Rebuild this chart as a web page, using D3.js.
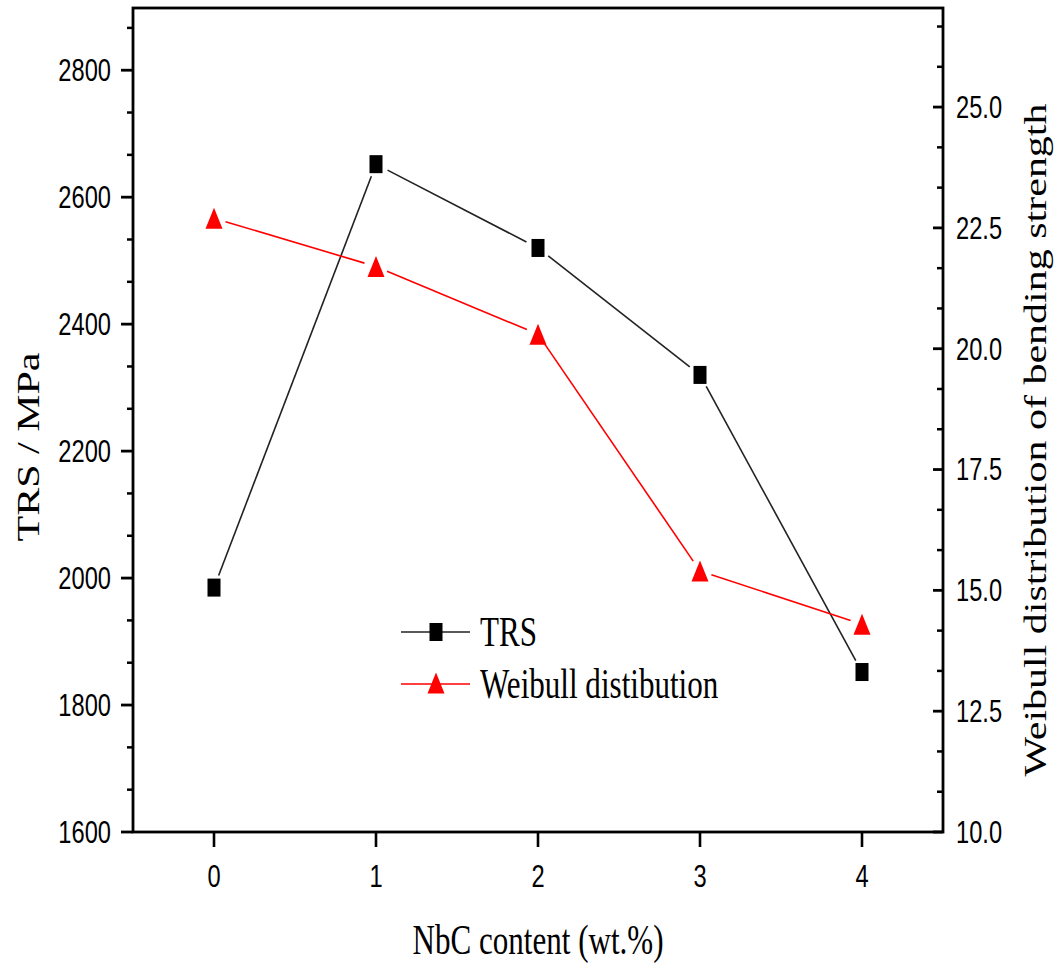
<!DOCTYPE html>
<html>
<head>
<meta charset="utf-8">
<script src="https://cdn.jsdelivr.net/npm/d3@7/dist/d3.min.js"></script>
<style>
  html, body { margin: 0; padding: 0; background: #fff; }
  svg { display: block; }
</style>
</head>
<body>
<svg id="chart" width="1060" height="967"></svg>
<script>
// NbC content (wt.%) on the x axis
const nbcContent = [0, 1, 2, 3, 4];
// Transverse rupture strength, MPa (left axis)
const trsValues = [1985, 2652, 2520, 2320, 1852];
// Weibull modulus of bending strength (right axis)
const weibullValues = [22.7, 21.7, 20.3, 15.4, 14.3];

const leftTicks = [1600, 1800, 2000, 2200, 2400, 2600, 2800];
const rightTicks = [10.0, 12.5, 15.0, 17.5, 20.0, 22.5, 25.0];
const xTicks = [0, 1, 2, 3, 4];

const svg = d3.select("#chart");
const squeeze = 0.74; // glyphs are set narrow

const plot = { left: 133, right: 943, top: 8, bottom: 832 };

const x = d3.scaleLinear().domain([-0.5, 4.5]).range([plot.left, plot.right]);
const yL = d3.scaleLinear().domain([1600, 2898]).range([plot.bottom, plot.top]);
const yR = d3.scaleLinear().domain([10, 27.05]).range([plot.bottom, plot.top]);

const sans = "'Liberation Sans', Arial, sans-serif";
const serif = "'Liberation Serif', 'Times New Roman', serif";

function narrowText(g, tx, ty, str, opts) {
  const t = g.append("text")
    .attr("transform", `translate(${tx},${ty}) scale(${squeeze},1)` + (opts.rotate ? ` rotate(${opts.rotate})` : ""))
    .attr("font-family", opts.family)
    .attr("font-size", opts.size)
    .attr("text-anchor", opts.anchor || "start")
    .attr("dominant-baseline", opts.baseline || "auto")
    .attr("fill", "#000")
    .text(str);
  return t;
}

// ---- Left axis (TRS) ----
const gL = svg.append("g");
const minorL = d3.range(1600, 2898, 200 / 3).filter(v => Math.abs((v - 1600) % 200) > 1 && Math.abs((v - 1600) % 200 - 200) > 1);
gL.selectAll("line.minor").data(minorL).join("line")
  .attr("x1", plot.left - 6).attr("x2", plot.left)
  .attr("y1", d => yL(d)).attr("y2", d => yL(d))
  .attr("stroke", "#000").attr("stroke-width", 2.5);
gL.selectAll("line.major").data(leftTicks).join("line")
  .attr("x1", plot.left - 12).attr("x2", plot.left)
  .attr("y1", d => yL(d)).attr("y2", d => yL(d))
  .attr("stroke", "#000").attr("stroke-width", 2.8);
leftTicks.forEach(v => narrowText(gL, 111, yL(v), String(v),
  { family: sans, size: 32, anchor: "end", baseline: "central" }));

// ---- Right axis (Weibull) ----
const gR = svg.append("g");
const minorR = d3.range(10, 27.05, 2.5 / 3).filter(v => {
  const r = ((v - 10) / 2.5);
  return Math.abs(r - Math.round(r)) > 0.01;
});
gR.selectAll("line.minor").data(minorR).join("line")
  .attr("x1", plot.right - 6).attr("x2", plot.right)
  .attr("y1", d => yR(d)).attr("y2", d => yR(d))
  .attr("stroke", "#000").attr("stroke-width", 2.5);
gR.selectAll("line.major").data(rightTicks).join("line")
  .attr("x1", plot.right - 10).attr("x2", plot.right)
  .attr("y1", d => yR(d)).attr("y2", d => yR(d))
  .attr("stroke", "#000").attr("stroke-width", 2.8);
rightTicks.forEach(v => narrowText(gR, 956, yR(v), v.toFixed(1),
  { family: sans, size: 32, anchor: "start", baseline: "central" }));

// ---- Bottom axis ----
const gX = svg.append("g");
gX.selectAll("line.major").data(xTicks).join("line")
  .attr("x1", d => x(d)).attr("x2", d => x(d))
  .attr("y1", plot.bottom).attr("y2", plot.bottom + 15)
  .attr("stroke", "#000").attr("stroke-width", 2.6);
xTicks.forEach(v => narrowText(gX, x(v), 876, String(v),
  { family: sans, size: 32, anchor: "middle", baseline: "central" }));

// ---- Frame ----
svg.append("rect")
  .attr("x", plot.left).attr("y", plot.top)
  .attr("width", plot.right - plot.left).attr("height", plot.bottom - plot.top)
  .attr("fill", "none").attr("stroke", "#000").attr("stroke-width", 2.8);

// ---- Axis titles ----
narrowText(svg, 538, 940, "NbC content (wt.%)",
  { family: serif, size: 42, anchor: "middle", baseline: "central" });
narrowText(svg, 28, 447, "TRS / MPa",
  { family: serif, size: 42, anchor: "middle", baseline: "central", rotate: -90 });
narrowText(svg, 1035, 440, "Weibull distribution of bending strength",
  { family: serif, size: 42, anchor: "middle", baseline: "central", rotate: -90 });

// ---- Series lines, broken around each marker ----
function gappedSegments(pts, gap) {
  const segs = [];
  for (let i = 0; i < pts.length - 1; i++) {
    const [x1, y1] = pts[i], [x2, y2] = pts[i + 1];
    const len = Math.hypot(x2 - x1, y2 - y1);
    const ux = (x2 - x1) / len, uy = (y2 - y1) / len;
    segs.push([x1 + ux * gap, y1 + uy * gap, x2 - ux * gap, y2 - uy * gap]);
  }
  return segs;
}

const trsPts = nbcContent.map((c, i) => [x(c), yL(trsValues[i])]);
const weiPts = nbcContent.map((c, i) => [x(c), yR(weibullValues[i])]);

svg.append("g").selectAll("line").data(gappedSegments(trsPts, 13)).join("line")
  .attr("x1", d => d[0]).attr("y1", d => d[1]).attr("x2", d => d[2]).attr("y2", d => d[3])
  .attr("stroke", "#222").attr("stroke-width", 1.6);
svg.append("g").selectAll("line").data(gappedSegments(weiPts, 12)).join("line")
  .attr("x1", d => d[0]).attr("y1", d => d[1]).attr("x2", d => d[2]).attr("y2", d => d[3])
  .attr("stroke", "#ff0000").attr("stroke-width", 1.6);

// ---- Markers ----
const sqW = 13, sqH = 18;
const triW = 17, triH = 21;
const trianglePath = (cx, cy) =>
  `M${cx},${cy - triH / 2}L${cx + triW / 2},${cy + triH / 2}L${cx - triW / 2},${cy + triH / 2}Z`;

svg.append("g").selectAll("rect").data(trsPts).join("rect")
  .attr("x", d => d[0] - sqW / 2).attr("y", d => d[1] - sqH / 2)
  .attr("width", sqW).attr("height", sqH).attr("fill", "#000");
svg.append("g").selectAll("path").data(weiPts).join("path")
  .attr("d", d => trianglePath(d[0], d[1])).attr("fill", "#ff0000");

// ---- Legend ----
const lg = svg.append("g");
const legendRows = [
  { label: "TRS", color: "#222", marker: "square", y: 632 },
  { label: "Weibull distibution", color: "#ff0000", marker: "triangle", y: 684 }
];
legendRows.forEach(r => {
  lg.append("line").attr("x1", 401).attr("x2", 470).attr("y1", r.y).attr("y2", r.y)
    .attr("stroke", r.color).attr("stroke-width", 1.6);
  if (r.marker === "square") {
    lg.append("rect").attr("x", 436 - sqW / 2).attr("y", r.y - sqH / 2)
      .attr("width", sqW).attr("height", sqH).attr("fill", "#000");
  } else {
    lg.append("path").attr("d", trianglePath(436, r.y - 1)).attr("fill", "#ff0000");
  }
  narrowText(lg, 480, r.y, r.label, { family: serif, size: 42, anchor: "start", baseline: "central" });
});
</script>
</body>
</html>
